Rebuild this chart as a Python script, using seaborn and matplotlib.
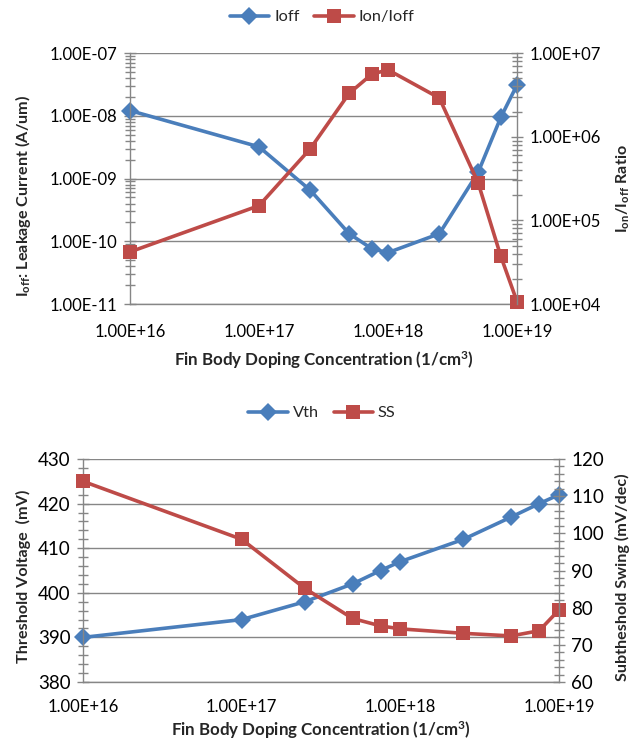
import matplotlib
matplotlib.use("Agg")
import matplotlib.pyplot as plt
import seaborn as sns
import pandas as pd
from matplotlib.ticker import FuncFormatter, LogLocator, MultipleLocator, NullFormatter, FixedLocator

# Fin body doping sweep
doping = [1e16, 1e17, 2.5e17, 5e17, 7.5e17, 1e18, 2.5e18, 5e18, 7.5e18, 1e19]
ioff = [1.21e-8, 3.2e-9, 6.5e-10, 1.32e-10, 7.6e-11, 6.6e-11, 1.32e-10, 1.26e-9, 9.5e-9, 3.1e-8]
on_off = [4.2e4, 1.5e5, 7.2e5, 3.3e6, 5.6e6, 6.3e6, 2.9e6, 2.8e5, 3.7e4, 1.07e4]
vth = [390, 394, 398, 402, 405, 407, 412, 417, 420, 422]
ss = [114, 98.4, 85.2, 77.1, 75.1, 74.3, 73.1, 72.4, 73.8, 79.4]

x_ticks = [1e16, 1e17, 1e18, 1e19]

BLUE = "#4A7EBB"
RED = "#BE4B48"
GRID = "#868686"

sns.set_style("white")
plt.rcParams["font.family"] = ["Lato", "DejaVu Sans"]
plt.rcParams["mathtext.fontset"] = "custom"
plt.rcParams["mathtext.rm"] = "Lato"
plt.rcParams["mathtext.it"] = "Lato"
plt.rcParams["mathtext.bf"] = "Lato:bold"

TICK_FS = 12
LABEL_FS = 12.2
YLABEL_FS = 11.6
LEGEND_FS = 11.8

df = pd.DataFrame({"doping": doping, "ioff": ioff, "on_off": on_off,
                   "vth": vth, "ss": ss})

fig = plt.figure(figsize=(6.44, 7.47), dpi=100)

sci = FuncFormatter(lambda v, p: f"{v:.2E}")


def style_axis(ax, spines):
    for name, sp in ax.spines.items():
        sp.set_visible(name in spines)
        sp.set_color(GRID)
        sp.set_linewidth(1.0)
    ax.tick_params(which="both", direction="inout", color=GRID, width=1.0,
                   labelsize=TICK_FS, labelcolor="black")
    ax.tick_params(which="major", length=8)
    ax.tick_params(which="minor", length=7)


def setup_x(ax, pad):
    ax.set_xscale("log")
    ax.set_xlim(1e16, 1e19)
    ax.xaxis.set_major_locator(FixedLocator(x_ticks))
    ax.xaxis.set_minor_locator(LogLocator(base=10, subs=range(2, 10)))
    ax.xaxis.set_major_formatter(sci)
    ax.xaxis.set_minor_formatter(NullFormatter())
    ax.tick_params(axis="x", which="major", pad=pad)


line_kw = dict(linewidth=2.6, markeredgewidth=0, sort=False, clip_on=False)

# ---------- Leakage current and on/off ratio ----------
ax1 = fig.add_axes([0.2019, 0.5930, 0.6009, 0.3360])
ax1b = ax1.twinx()

sns.lineplot(data=df, x="doping", y="ioff", ax=ax1, color=BLUE, marker="D",
             markersize=9, label="Ioff", legend=False, **line_kw)
sns.lineplot(data=df, x="doping", y="on_off", ax=ax1b, color=RED, marker="s",
             markersize=9.5, label="Ion/Ioff", legend=False, **line_kw)

setup_x(ax1, 10.5)
ax1.set_yscale("log")
ax1.set_ylim(1e-11, 1e-7)
ax1.yaxis.set_major_locator(LogLocator(base=10, numticks=10))
ax1.yaxis.set_minor_locator(LogLocator(base=10, subs=range(2, 10), numticks=10))
ax1.yaxis.set_major_formatter(sci)
ax1.yaxis.set_minor_formatter(NullFormatter())
ax1b.set_yscale("log")
ax1b.set_ylim(1e4, 1e7)
ax1b.yaxis.set_major_locator(LogLocator(base=10, numticks=10))
ax1b.yaxis.set_minor_locator(LogLocator(base=10, subs=range(2, 10), numticks=10))
ax1b.yaxis.set_major_formatter(sci)
ax1b.yaxis.set_minor_formatter(NullFormatter())

ax1.grid(axis="y", which="major", color=GRID, linewidth=1.0)
ax1.grid(axis="x", visible=False)
style_axis(ax1, {"left", "bottom"})
style_axis(ax1b, {"right"})
ax1.tick_params(axis="y", pad=5)
ax1b.tick_params(axis="y", pad=5)

ax1.set_xlabel("Fin Body Doping Concentration (1/cm$^{\\mathbf{3}}$)",
               fontsize=LABEL_FS, fontweight="bold")
ax1.xaxis.label.set_verticalalignment("center")
ax1.xaxis.set_label_coords(0.5, -0.222)
ax1.set_ylabel("$\\mathbf{I_{off}}$: Leakage Current (A/um)",
               fontsize=YLABEL_FS, fontweight="bold")
ax1.yaxis.label.set_verticalalignment("center")
ax1.yaxis.set_label_coords(-0.2765, 0.43)
ax1b.set_ylabel("$\\mathbf{I_{on}/I_{off}}$ Ratio",
                fontsize=YLABEL_FS, fontweight="bold")
ax1b.yaxis.label.set_verticalalignment("center")
ax1b.yaxis.set_label_coords(1.274, 0.46)

h1, l1 = ax1.get_legend_handles_labels()
h2, l2 = ax1b.get_legend_handles_labels()
fig.legend(h1 + h2, l1 + l2, loc="center", bbox_to_anchor=(0.5, 0.977),
           ncol=2, frameon=False, fontsize=LEGEND_FS, handlelength=2.4,
           handletextpad=0.3, columnspacing=0.9)

# ---------- Threshold voltage and subthreshold swing ----------
ax2 = fig.add_axes([0.1289, 0.0870, 0.7391, 0.2985])
ax2b = ax2.twinx()

sns.lineplot(data=df, x="doping", y="vth", ax=ax2, color=BLUE, marker="D",
             markersize=9, label="Vth", legend=False, **line_kw)
sns.lineplot(data=df, x="doping", y="ss", ax=ax2b, color=RED, marker="s",
             markersize=9.5, label="SS", legend=False, **line_kw)

setup_x(ax2, 8)
ax2.set_ylim(380, 430)
ax2.yaxis.set_major_locator(MultipleLocator(10))
ax2.yaxis.set_minor_locator(MultipleLocator(2))
ax2b.set_ylim(60, 120)
ax2b.yaxis.set_major_locator(MultipleLocator(10))
ax2b.yaxis.set_minor_locator(MultipleLocator(2))

ax2.grid(axis="y", which="major", color=GRID, linewidth=1.0)
ax2.grid(axis="x", visible=False)
style_axis(ax2, {"left", "bottom"})
style_axis(ax2b, {"right"})
ax2.tick_params(axis="y", pad=5, labelsize=13.5)
ax2b.tick_params(axis="y", pad=5, labelsize=13.5)

ax2.set_xlabel("Fin Body Doping Concentration (1/cm$^{\\mathbf{3}}$)",
               fontsize=LABEL_FS, fontweight="bold")
ax2.xaxis.label.set_verticalalignment("center")
ax2.xaxis.set_label_coords(0.5, -0.215)
ax2.set_ylabel("Threshold Voltage  (mV)", fontsize=YLABEL_FS, fontweight="bold")
ax2.yaxis.label.set_verticalalignment("center")
ax2.yaxis.set_label_coords(-0.126, 0.475)
ax2b.set_ylabel("Subtheshold Swing (mV/dec)", fontsize=YLABEL_FS, fontweight="bold")
ax2b.yaxis.label.set_verticalalignment("center")
ax2b.yaxis.set_label_coords(1.134, 0.47)

h1, l1 = ax2.get_legend_handles_labels()
h2, l2 = ax2b.get_legend_handles_labels()
fig.legend(h1 + h2, l1 + l2, loc="center", bbox_to_anchor=(0.5, 0.447),
           ncol=2, frameon=False, fontsize=LEGEND_FS, handlelength=2.4,
           handletextpad=0.3, columnspacing=0.9)

fig.savefig("out.png", dpi=100)
